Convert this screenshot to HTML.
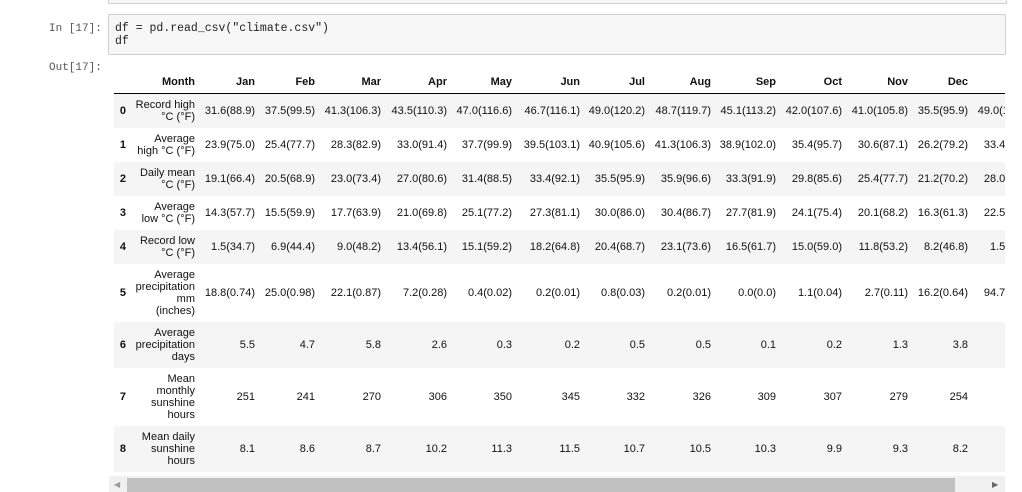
<!DOCTYPE html>
<html><head><meta charset="utf-8"><style>
body{margin:0;width:1022px;height:492px;background:#fff;position:relative;overflow:hidden;font-family:"Liberation Sans",Arial,sans-serif;}
.abs{position:absolute;}
.prompt{font-family:"Liberation Mono",monospace;font-size:11px;color:#555;}
.cell{font-size:11px;color:#111;text-align:right;line-height:12px;white-space:nowrap;}
.hdr{font-weight:bold;}
</style></head><body>
<div class="abs" style="left:108px;top:-4px;width:897px;height:6px;border:1px solid #cfcfcf;background:#f7f7f7"></div>
<div class="abs prompt" style="left:49px;top:23px">In [17]:</div>
<div class="abs" style="left:108px;top:14px;width:896px;height:39px;border:1px solid #cfcfcf;background:#f7f7f7;border-radius:2px"></div>
<div class="abs prompt" style="left:115px;top:22px;color:#222;line-height:13px;font-size:11.5px">df = pd.read_csv("climate.csv")<br>df</div>
<div class="abs prompt" style="left:49px;top:62px">Out[17]:</div>
<div id="tbl" class="abs" style="left:0;top:0;width:1005px;height:476px;overflow:hidden"></div>
<div class="abs" style="left:109px;top:476px;width:896px;height:16px;background:#f0f0f0"></div>
<div class="abs" style="left:127px;top:478px;width:828px;height:14px;background:#c1c1c1"></div>
<div class="abs" style="left:114px;top:480px;font-size:8px;color:#999">◀</div>
<div class="abs" style="left:992px;top:480px;font-size:8px;color:#666">▶</div>
<script>
const columns=["","Month","Jan","Feb","Mar","Apr","May","Jun","Jul","Aug","Sep","Oct","Nov","Dec","Year"];
const labels=[["Record high","°C (°F)"],["Average","high °C (°F)"],["Daily mean","°C (°F)"],["Average","low °C (°F)"],["Record low","°C (°F)"],["Average","precipitation","mm","(inches)"],["Average","precipitation","days"],["Mean","monthly","sunshine","hours"],["Mean daily","sunshine","hours"]];
const row0=["31.6(88.9)","37.5(99.5)","41.3(106.3)","43.5(110.3)","47.0(116.6)","46.7(116.1)","49.0(120.2)","48.7(119.7)","45.1(113.2)","42.0(107.6)","41.0(105.8)","35.5(95.9)","49.0(120.2)"];
const row1=["23.9(75.0)","25.4(77.7)","28.3(82.9)","33.0(91.4)","37.7(99.9)","39.5(103.1)","40.9(105.6)","41.3(106.3)","38.9(102.0)","35.4(95.7)","30.6(87.1)","26.2(79.2)","33.4(92.1)"];
const row2=["19.1(66.4)","20.5(68.9)","23.0(73.4)","27.0(80.6)","31.4(88.5)","33.4(92.1)","35.5(95.9)","35.9(96.6)","33.3(91.9)","29.8(85.6)","25.4(77.7)","21.2(70.2)","28.0(82.4)"];
const row3=["14.3(57.7)","15.5(59.9)","17.7(63.9)","21.0(69.8)","25.1(77.2)","27.3(81.1)","30.0(86.0)","30.4(86.7)","27.7(81.9)","24.1(75.4)","20.1(68.2)","16.3(61.3)","22.5(72.5)"];
const row4=["1.5(34.7)","6.9(44.4)","9.0(48.2)","13.4(56.1)","15.1(59.2)","18.2(64.8)","20.4(68.7)","23.1(73.6)","16.5(61.7)","15.0(59.0)","11.8(53.2)","8.2(46.8)","1.5(34.7)"];
const row5=["18.8(0.74)","25.0(0.98)","22.1(0.87)","7.2(0.28)","0.4(0.02)","0.2(0.01)","0.8(0.03)","0.2(0.01)","0.0(0.0)","1.1(0.04)","2.7(0.11)","16.2(0.64)","94.7(3.73)"];
const row6=["5.5","4.7","5.8","2.6","0.3","0.2","0.5","0.5","0.1","0.2","1.3","3.8",""];
const row7=["251","241","270","306","350","345","332","326","309","307","279","254",""];
const row8=["8.1","8.6","8.7","10.2","11.3","11.5","10.7","10.5","10.3","9.9","9.3","8.2",""];
const rows=[row0,row1,row2,row3,row4,row5,row6,row7,row8];
const colRight=[126,195,255,315,381,447,512,580,645,711,776,842,908,968,1034];
const rowTop=[94,128,162,196,230,264,322,368,426,472];
const tbl=document.getElementById('tbl');
function cell(txt,right,cy,bold,name){
  const d=document.createElement('div');
  d.className='abs cell'+(bold?' hdr':'');
  
  
  d.innerHTML=txt;
  d.style.right=(1005-right)+'px';
  tbl.appendChild(d);
  const h=d.offsetHeight;d.style.top=(cy-h/2)+'px';
}
columns.forEach((c,i)=>{ if(c) cell(c,colRight[i],82,true,'column-header'); });
const line=document.createElement('div');
line.className='abs';


line.style.cssText='left:114px;top:93px;width:891px;height:1px;background:#000';
tbl.appendChild(line);
rows.forEach((r,i)=>{
  const top=rowTop[i],h=rowTop[i+1]-top,cy=top+h/2;
  if(i%2===0){const bg=document.createElement('div');bg.className='abs';
    
    
    bg.style.cssText=`left:114px;top:${top}px;width:891px;height:${h}px;background:#f5f5f5`;tbl.appendChild(bg);}
  cell(String(i),colRight[0],cy,true,'row-index');
  cell(labels[i].join('<br>'),colRight[1],cy,false,'row-label');
  r.forEach((v,j)=>{ if(v) cell(v,colRight[j+2],cy,false,'data-cell'); });
});
</script>
</body></html>
